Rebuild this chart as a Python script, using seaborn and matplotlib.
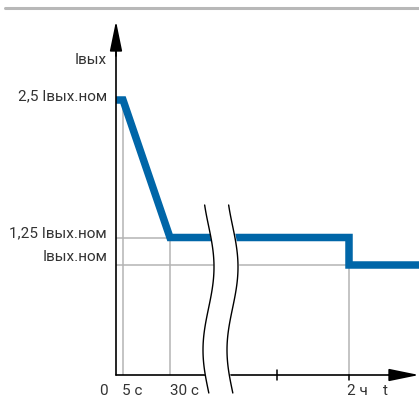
import numpy as np
import pandas as pd
import matplotlib
matplotlib.use('Agg')
import matplotlib.pyplot as plt
import seaborn as sns

# положение точек на схематичной оси времени (ось с разрывом)
t_labels = ['0', '5 с', '30 с', '2 ч']
t_pos = [0, 0.7, 5.4, 23.3]
t_end = 30.3
# ток в долях Iвых.ном
curve_x = [0, 0.7, 5.4, 23.3, 23.3, 30.3]
curve_y = [2.5, 2.5, 1.25, 1.25, 1.0, 1.0]
i_labels = ['2,5 Iвых.ном', '1,25 Iвых.ном', 'Iвых.ном']
i_levels = [2.5, 1.25, 1.0]

sns.set_style('white')
plt.rcParams['font.family'] = ['Roboto', 'DejaVu Sans']

fig = plt.figure(figsize=(4.19, 4.19), dpi=100)
ax = fig.add_axes([116 / 419, 44 / 419, 303 / 419, 354 / 419])
ax.set_xlim(0, t_end)
ax.set_ylim(0, 354 / 110)
ax.axis('off')

grey = '#b4b4b4'
txt = '#333333'
fs = 11

# вертикальные линии сетки
ax.vlines(t_pos[1:], 0, [2.5, 1.25, 1.0], color=grey, lw=1.1, zorder=1)
# горизонтальные линии сетки
ax.hlines(1.25, 0, t_pos[2], color=grey, lw=1.1, zorder=1)
ax.hlines(1.0, 0, t_pos[3], color=grey, lw=1.1, zorder=1)

df = pd.DataFrame({'t': curve_x, 'I': curve_y})
sns.lineplot(data=df, x='t', y='I', sort=False, estimator=None, color='#0066a8',
             lw=5.4, ax=ax, zorder=3, solid_joinstyle='miter', solid_capstyle='butt')

# оси со стрелками
ax.plot([0, 0], [0, 3.1], color='black', lw=1.2, zorder=4, clip_on=False)
ax.plot([0, t_end - 1], [0, 0], color='black', lw=1.2, zorder=4, clip_on=False)
ax.annotate('', xy=(0, 354 / 110), xytext=(0, 2.9),
            arrowprops=dict(arrowstyle='-|>,head_length=1.85,head_width=0.38',
                            color='black', lw=1.2, shrinkA=0, shrinkB=0),
            annotation_clip=False, zorder=5)
ax.annotate('', xy=(t_end, 0), xytext=(t_end - 3, 0),
            arrowprops=dict(arrowstyle='-|>,head_length=1.85,head_width=0.38',
                            color='black', lw=1.2, shrinkA=0, shrinkB=0),
            annotation_clip=False, zorder=5)

# засечки на оси t
ax.plot([16.1, 16.1], [-0.045, 0.045], color='black', lw=1.1, clip_on=False, zorder=4)
ax.plot([23.3, 23.3], [-0.045, 0], color='black', lw=1.1, clip_on=False, zorder=4)

# разрыв оси (две волнистые линии)
s = np.linspace(0, 188, 80)
wave = 5.5 * np.sin(np.pi * (s - 62) / 83 + np.pi / 2)
yy = (375 - (205 + s)) / 110
x1 = (208.5 + wave - 116) / 10
x2 = (232.5 + wave - 116) / 10
ax.fill_betweenx(yy, x1, x2, color='white', zorder=6, clip_on=False)
ax.plot(x1, yy, color='black', lw=1.0, zorder=7, clip_on=False)
ax.plot(x2, yy, color='black', lw=1.0, zorder=7, clip_on=False)

# подписи по оси тока
ax.text(-0.9, 2.86, 'Iвых', ha='right', va='center', fontsize=fs, color=txt)
for lab, lev, dy in zip(i_labels, i_levels, [0.03, 0.04, 0.07]):
    ax.text(-0.9, lev + dy, lab, ha='right', va='center', fontsize=fs, color=txt)

# подписи по оси времени
for lab, x in zip(t_labels, [-1.3, 1.6, 6.8, 24.1]):
    ax.text(x, -0.145, lab, ha='center', va='center', fontsize=fs, color=txt)
ax.text(26.9, -0.145, 't', ha='center', va='center', fontsize=fs, color=txt)

# серая линия сверху
fig.add_artist(plt.Line2D([5 / 419, 1], [411 / 419, 411 / 419], color='#b8b8b8', lw=2.2))

fig.savefig('out.png', dpi=100)
